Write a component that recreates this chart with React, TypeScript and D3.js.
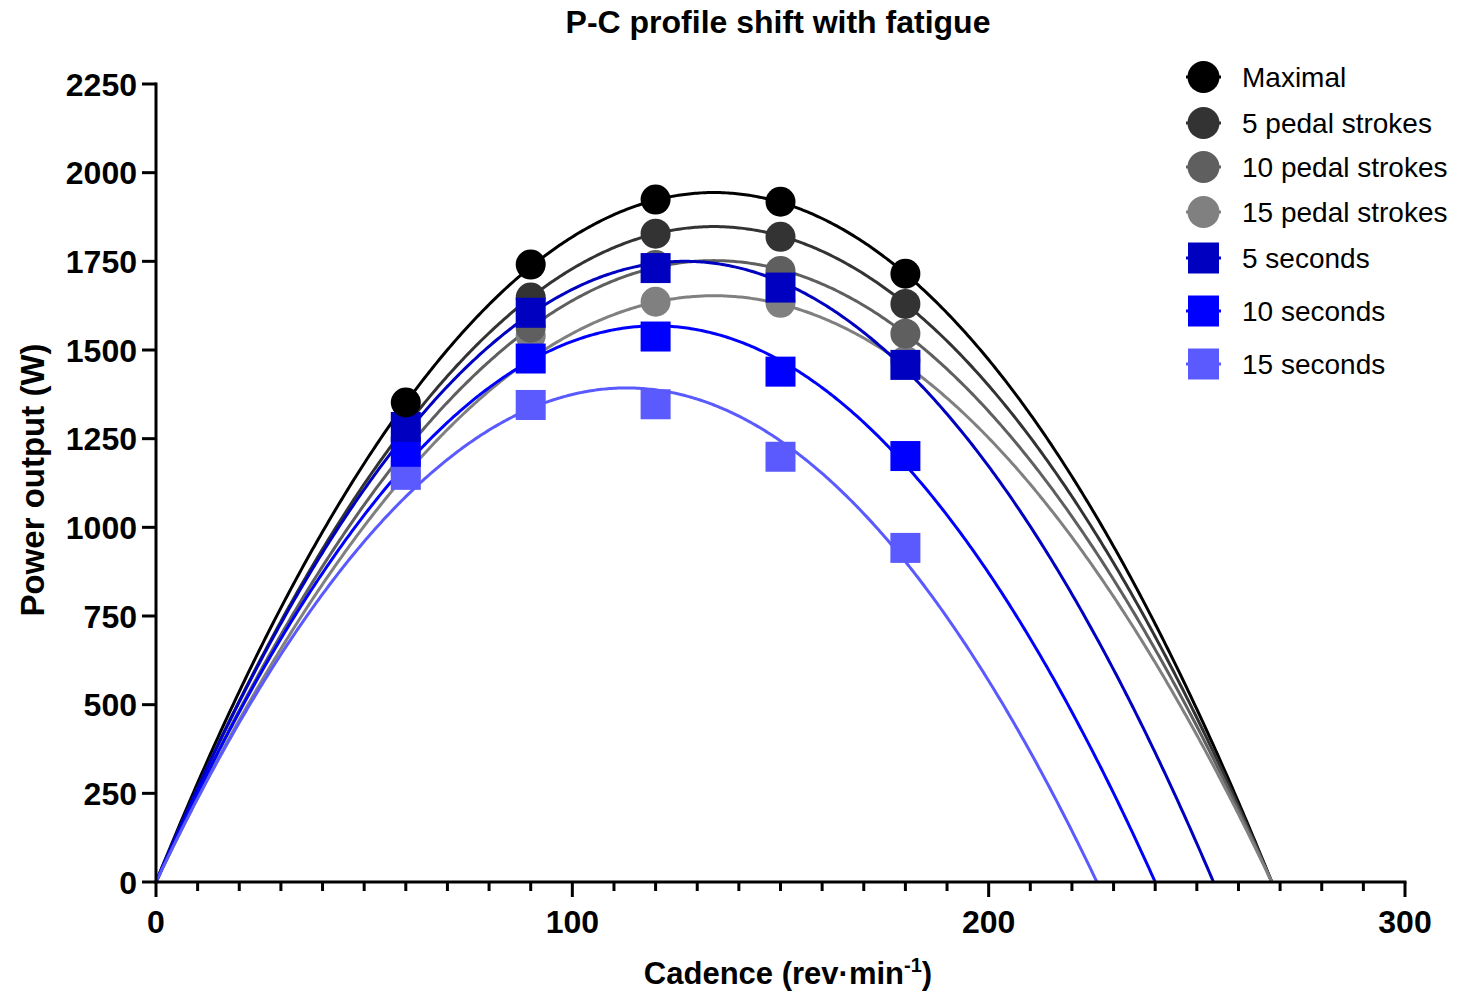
import React from "react";
import * as d3 from "d3";

// ---- data ----
const CADENCE = [60, 90, 120, 150, 180];
const SERIES_NAMES = [
  "Maximal",
  "5 pedal strokes",
  "10 pedal strokes",
  "15 pedal strokes",
  "5 seconds",
  "10 seconds",
  "15 seconds",
];
const MAXIMAL = [1352, 1741, 1924, 1918, 1715];
const PEDAL5 = [1286, 1648, 1828, 1819, 1630];
const PEDAL10 = [1220, 1563, 1740, 1723, 1546];
const PEDAL15 = [1150, 1540, 1636, 1633, 1470];
const SEC5 = [1283, 1605, 1731, 1676, 1458];
const SEC10 = [1213, 1476, 1538, 1439, 1201];
const SEC15 = [1148, 1345, 1347, 1199, 942];
// fitted parabola parameters (peak power, optimal cadence)
const PEAK_POWER = [1944, 1848, 1752, 1653, 1750, 1568, 1393];
const OPT_CADENCE = [134, 134, 134, 134, 127, 120, 113];
const X_MAJOR_TICKS = [0, 100, 200, 300];
const Y_TICKS = [0, 250, 500, 750, 1000, 1250, 1500, 1750, 2000, 2250];

const VALUES = [MAXIMAL, PEDAL5, PEDAL10, PEDAL15, SEC5, SEC10, SEC15];
const COLORS = ["#000000", "#333333", "#5f5f5f", "#808080", "#0000c0", "#0000ff", "#5a5aff"];
const SHAPES = ["circle", "circle", "circle", "circle", "square", "square", "square"];
const DRAW_ORDER = [3, 2, 1, 6, 5, 4, 0];

const W = 1476;
const H = 991;
const LEFT = 156;
const RIGHT = 1405;
const TOP = 84;
const BOTTOM = 882;
const FONT = "'Liberation Sans', Arial, Helvetica, sans-serif";

export default function App() {
  const x = d3.scaleLinear().domain([0, 300]).range([LEFT, RIGHT]);
  const y = d3.scaleLinear().domain([0, 2250]).range([BOTTOM, TOP]);
  const line = d3
    .line<[number, number]>()
    .x((d) => x(d[0]))
    .y((d) => y(d[1]))
    .curve(d3.curveLinear);

  const curves = PEAK_POWER.map((pmax, i) => {
    const copt = OPT_CADENCE[i];
    const pts: [number, number][] = d3
      .range(0, 2 * copt + 0.001, 0.5)
      .map((c) => [c, pmax * (1 - ((c - copt) / copt) ** 2)] as [number, number]);
    return line(pts) as string;
  });

  const minorTicks = d3.range(0, 301, 10).filter((t) => t % 100 !== 0);
  const SYM = 30;
  const symbol = (shape: string, cx: number, cy: number, color: string, size: number, key: string) =>
    shape === "circle" ? (
      <circle key={key} cx={cx} cy={cy} r={size / 2} fill={color} />
    ) : (
      <rect key={key} x={cx - size / 2} y={cy - size / 2} width={size} height={size} fill={color} />
    );

  const legendY = [77, 123, 167, 212, 258, 311, 364];

  return (
    <svg
      width={W}
      height={H}
      style={{ position: "absolute", left: 0, top: 0, display: "block", background: "#fff" }}
      fontFamily={FONT}
    >
      <text x={778} y={33} textAnchor="middle" fontSize={32} fontWeight="bold" fill="#000">
        P-C profile shift with fatigue
      </text>

      {/* curves */}
      {curves.map((d, i) => (
        <path key={"c" + i} d={d} fill="none" stroke={COLORS[i]} strokeWidth={3} />
      ))}

      {/* axes */}
      <line x1={LEFT} x2={LEFT} y1={TOP - 1.5} y2={BOTTOM + 1.5} stroke="#000" strokeWidth={3} />
      <line x1={LEFT - 1.5} x2={RIGHT + 1.5} y1={BOTTOM} y2={BOTTOM} stroke="#000" strokeWidth={3} />
      {Y_TICKS.map((t) => (
        <g key={"yt" + t}>
          <line x1={LEFT - 14} x2={LEFT} y1={y(t)} y2={y(t)} stroke="#000" strokeWidth={3} />
          <text x={137} y={y(t)} dy="0.36em" textAnchor="end" fontSize={32} fontWeight="bold">
            {t}
          </text>
        </g>
      ))}
      {minorTicks.map((t) => (
        <line key={"mt" + t} x1={x(t)} x2={x(t)} y1={BOTTOM} y2={BOTTOM + 9} stroke="#000" strokeWidth={3} />
      ))}
      {X_MAJOR_TICKS.map((t) => (
        <g key={"xt" + t}>
          <line x1={x(t)} x2={x(t)} y1={BOTTOM} y2={BOTTOM + 15} stroke="#000" strokeWidth={3} />
          <text x={x(t)} y={933} textAnchor="middle" fontSize={32} fontWeight="bold">
            {t}
          </text>
        </g>
      ))}

      <text x={788} y={984} textAnchor="middle" fontSize={31} fontWeight="bold">
        Cadence (rev·min
        <tspan dy={-12} fontSize={20}>-1</tspan>
        <tspan dy={12}>)</tspan>
      </text>
      <text
        transform={`translate(44, 480) rotate(-90)`}
        textAnchor="middle"
        fontSize={33}
        fontWeight="bold"
      >
        Power output (W)
      </text>

      {/* points */}
      {DRAW_ORDER.map((i) => (
        <g key={"p" + i}>
          {VALUES[i].map((v, j) => symbol(SHAPES[i], x(CADENCE[j]), y(v), COLORS[i], SYM, `s${i}-${j}`))}
        </g>
      ))}

      {/* legend */}
      {SERIES_NAMES.map((name, i) => (
        <g key={"l" + i}>
          <line x1={1186} x2={1221} y1={legendY[i]} y2={legendY[i]} stroke={COLORS[i]} strokeWidth={3} />
          {symbol(SHAPES[i], 1203.5, legendY[i], COLORS[i], SHAPES[i] === "circle" ? 32 : 31, "ls" + i)}
          <text x={1242} y={legendY[i]} dy="0.36em" fontSize={28} fill="#000">
            {name}
          </text>
        </g>
      ))}
    </svg>
  );
}
